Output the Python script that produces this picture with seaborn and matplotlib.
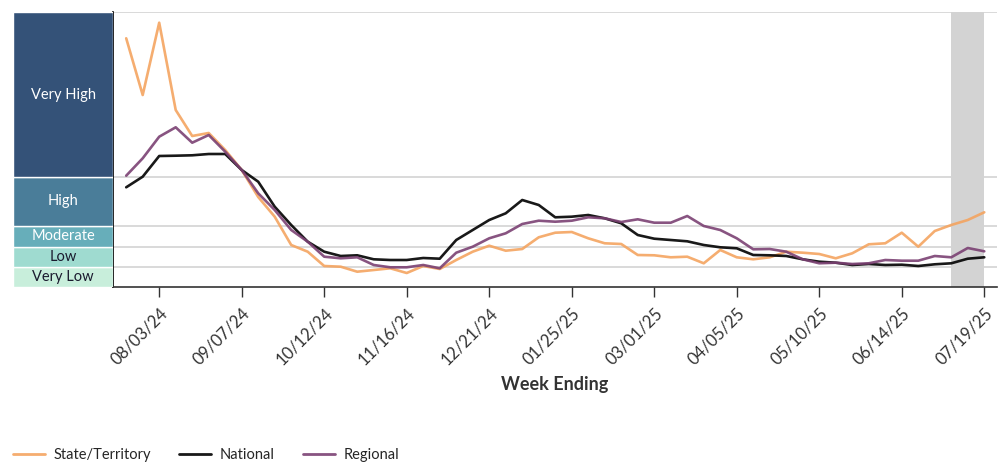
import pandas as pd
import numpy as np
import matplotlib
matplotlib.use("Agg")
import matplotlib.pyplot as plt
import matplotlib.dates as mdates
import seaborn as sns

# Weekly values (week ending dates)
weeks = pd.date_range("2024-07-20", periods=53, freq="7D")

state = [24.90, 19.23, 26.46, 17.73, 15.13, 15.43, 13.73, 11.73, 9.03, 7.06,
         4.23, 3.56, 2.13, 2.06, 1.56, 1.73, 1.90, 1.43, 2.13, 1.83,
         2.73, 3.56, 4.16, 3.66, 3.83, 5.00, 5.46, 5.53, 4.90, 4.40,
         4.33, 3.23, 3.20, 3.00, 3.06, 2.40, 3.73, 3.00, 2.80, 3.00,
         3.56, 3.46, 3.33, 2.90, 3.40, 4.30, 4.40, 5.46, 4.06, 5.63,
         6.23, 6.73, 7.50]
national = [10.00, 11.06, 13.13, 13.16, 13.20, 13.33, 13.33, 11.73, 10.56, 8.06,
            6.23, 4.56, 3.56, 3.13, 3.20, 2.80, 2.73, 2.73, 2.93, 2.86,
            4.73, 5.73, 6.73, 7.40, 8.73, 8.23, 7.00, 7.06, 7.23, 6.90,
            6.40, 5.23, 4.86, 4.73, 4.60, 4.23, 4.00, 3.90, 3.23, 3.20,
            3.13, 2.80, 2.56, 2.46, 2.23, 2.33, 2.23, 2.26, 2.13, 2.30,
            2.40, 2.86, 3.00]
regional = [11.16, 12.90, 15.06, 16.00, 14.46, 15.23, 13.56, 11.73, 9.40, 7.73,
            5.73, 4.56, 3.06, 2.90, 3.00, 2.23, 2.00, 2.00, 2.23, 1.90,
            3.46, 4.06, 4.90, 5.40, 6.33, 6.66, 6.56, 6.66, 7.00, 6.90,
            6.53, 6.80, 6.46, 6.46, 7.13, 6.13, 5.73, 4.90, 3.80, 3.83,
            3.56, 2.80, 2.40, 2.46, 2.33, 2.40, 2.73, 2.66, 2.66, 3.13,
            3.00, 3.93, 3.60]

series_names = ["State/Territory", "National", "Regional"]
series_colors = ["#F4A460", "#000000", "#7B4173"]

level_names = ["Very Low", "Low", "Moderate", "High", "Very High"]
level_bounds = [0, 2.0, 4.06, 6.16, 11.06, 27.5]
level_colors = ["#C8EEDB", "#9FDBD0", "#67AEBA", "#4A7D99", "#345278"]
level_text = ["#1a1a2e", "#1a1a2e", "white", "white", "white"]

df = pd.DataFrame({"week": weeks, "State/Territory": state,
                   "National": national, "Regional": regional})
long_df = df.melt(id_vars="week", var_name="series", value_name="level")

sns.set_style("white")
plt.rcParams["font.family"] = ["Lato", "DejaVu Sans"]

fig = plt.figure(figsize=(10.05, 4.68), dpi=100)
ax = fig.add_axes([113 / 1005, 180.7 / 468, 884 / 1005, 275 / 468])
band_ax = fig.add_axes([13 / 1005, 180.7 / 468, 100 / 1005, 275 / 468], sharey=ax)

# gridlines at level thresholds
for b in level_bounds[1:]:
    ax.axhline(b, color="#d3d3d3", lw=1.2, zorder=0)

# shaded incomplete-data weeks
ax.axvspan(weeks[50], weeks[52], color="#d3d3d3", lw=0, zorder=0.5)

sns.lineplot(data=long_df, x="week", y="level", hue="series",
             hue_order=series_names, palette=dict(zip(series_names, series_colors)),
             lw=1.9, alpha=0.9, ax=ax)
for line in ax.get_lines():
    line.set_solid_joinstyle("round")

ax.set_ylim(level_bounds[0], level_bounds[-1])
ax.set_xlim(weeks[0] - pd.Timedelta(days=5.6), weeks[-1] + pd.Timedelta(days=5.4))
ax.set_xticks(weeks[2::5])
ax.xaxis.set_major_formatter(mdates.DateFormatter("%m/%d/%y"))
ax.set_yticks([])
ax.tick_params(axis="x", bottom=True, length=7, width=1, color="#333333",
               labelsize=12, labelcolor="#333333", pad=6)
plt.setp(ax.get_xticklabels(), rotation=45, ha="right", rotation_mode="anchor")
ax.set_xlabel("Week Ending", fontsize=13, fontweight="bold", color="#333333", labelpad=6)
ax.set_ylabel("")
sns.despine(ax=ax)
ax.spines["left"].set_color("black")
ax.spines["bottom"].set_color("#333333")
ax.spines["left"].set_linewidth(1.2)
ax.spines["bottom"].set_linewidth(1.2)

# level band column
for i, name in enumerate(level_names):
    lo, hi = level_bounds[i], level_bounds[i + 1]
    band_ax.axhspan(lo, hi, color=level_colors[i], ec="white", lw=1)
    band_ax.text(0.5, (lo + hi) / 2, name, ha="center", va="center",
                 color=level_text[i], fontsize=10.5)
band_ax.set_xlim(0, 1)
band_ax.axis("off")

sns.move_legend(ax, "center left", bbox_to_anchor=(0.0, 13 / 468),
                bbox_transform=fig.transFigure, ncol=3, frameon=False, title=None,
                fontsize=10.5, handlelength=2.2, handletextpad=0.6, columnspacing=1.9)
for line in ax.get_legend().get_lines():
    line.set_linewidth(2.0)

fig.savefig("out.png", dpi=100)
